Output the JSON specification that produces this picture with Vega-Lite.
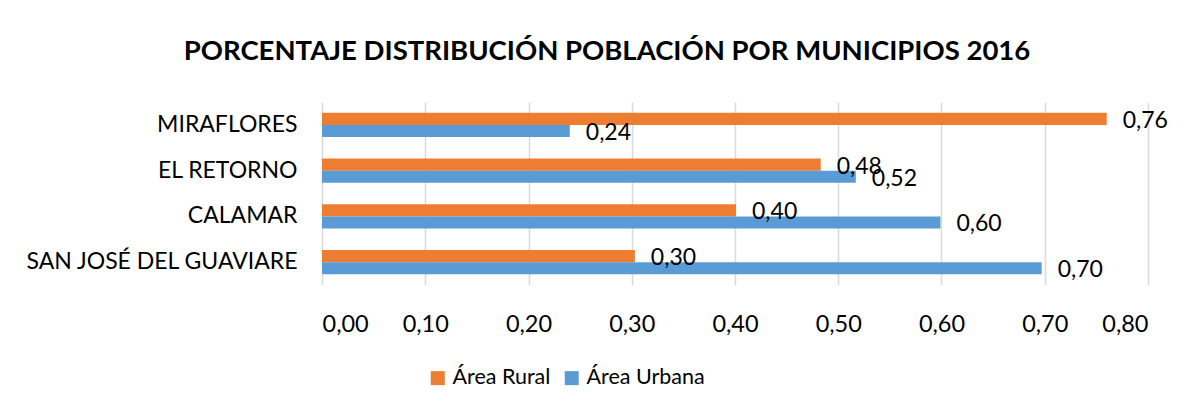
{
  "$schema": "https://vega.github.io/schema/vega-lite/v6.json",
  "autosize": {"type": "none"},
  "padding": {"left": 322, "top": 102, "right": 39, "bottom": 123},
  "width": 826,
  "height": 183,
  "background": "white",
  "config": {
    "locale": {"number": {"decimal": ",", "thousands": ".", "grouping": [3], "currency": ["$", ""]}},
    "font": "Lato",
    "view": {"stroke": null}
  },
  "title": {
    "text": "PORCENTAJE DISTRIBUCIÓN POBLACIÓN POR MUNICIPIOS 2016",
    "font": "Lato",
    "fontSize": 27.5,
    "fontWeight": "bold",
    "color": "black",
    "anchor": "middle",
    "dx": -128,
    "offset": 37
  },
  "data": {
    "values": [
      {"municipio": "MIRAFLORES", "area": "Área Rural", "valor": 0.76},
      {"municipio": "MIRAFLORES", "area": "Área Urbana", "valor": 0.24},
      {"municipio": "EL RETORNO", "area": "Área Rural", "valor": 0.483},
      {"municipio": "EL RETORNO", "area": "Área Urbana", "valor": 0.517},
      {"municipio": "CALAMAR", "area": "Área Rural", "valor": 0.401},
      {"municipio": "CALAMAR", "area": "Área Urbana", "valor": 0.599},
      {"municipio": "SAN JOSÉ DEL GUAVIARE", "area": "Área Rural", "valor": 0.303},
      {"municipio": "SAN JOSÉ DEL GUAVIARE", "area": "Área Urbana", "valor": 0.697}
    ]
  },
  "encoding": {
    "y": {
      "field": "municipio",
      "type": "nominal",
      "sort": ["MIRAFLORES", "EL RETORNO", "CALAMAR", "SAN JOSÉ DEL GUAVIARE"],
      "scale": {"paddingInner": 0.47, "paddingOuter": 0.235},
      "axis": {
        "title": null,
        "ticks": false,
        "domain": false,
        "labelFontSize": 23,
        "labelColor": "black",
        "labelPadding": 25,
        "labelLimit": 400,
        "labelFont": "Lato"
      }
    },
    "yOffset": {
      "field": "area",
      "type": "nominal",
      "sort": ["Área Rural", "Área Urbana"],
      "scale": {"paddingInner": 0, "paddingOuter": 0}
    },
    "x": {
      "field": "valor",
      "type": "quantitative",
      "scale": {"domain": [0, 0.8], "nice": false},
      "axis": {
        "title": null,
        "format": ",.2f",
        "values": [0, 0.1, 0.2, 0.3, 0.4, 0.5, 0.6, 0.7, 0.8],
        "labelOverlap": false,
        "ticks": false,
        "domain": false,
        "grid": true,
        "gridColor": "#D9D9D9",
        "gridWidth": 1.5,
        "labelFontSize": 23.5,
        "labelColor": "black",
        "labelPadding": 27,
        "labelFont": "Lato"
      }
    }
  },
  "layer": [
    {
      "mark": {"type": "bar"},
      "encoding": {
        "color": {
          "field": "area",
          "type": "nominal",
          "scale": {"domain": ["Área Rural", "Área Urbana"], "range": ["#ED7D31", "#5B9BD5"]},
          "legend": {
            "title": null,
            "orient": "none",
            "direction": "horizontal",
            "legendX": 105,
            "legendY": 265,
            "symbolType": "square",
            "symbolSize": 196,
            "symbolStrokeWidth": 0,
            "labelFontSize": 21.5,
            "labelColor": "black",
            "labelFont": "Lato",
            "labelLimit": 300,
            "columnSpacing": 24,
            "padding": 0
          }
        }
      }
    },
    {
      "mark": {"type": "text", "align": "left", "baseline": "middle", "dx": 16, "dy": 2, "fontSize": 23, "color": "black", "font": "Lato"},
      "encoding": {
        "text": {"field": "valor", "type": "quantitative", "format": ",.2f"}
      }
    }
  ]
}
